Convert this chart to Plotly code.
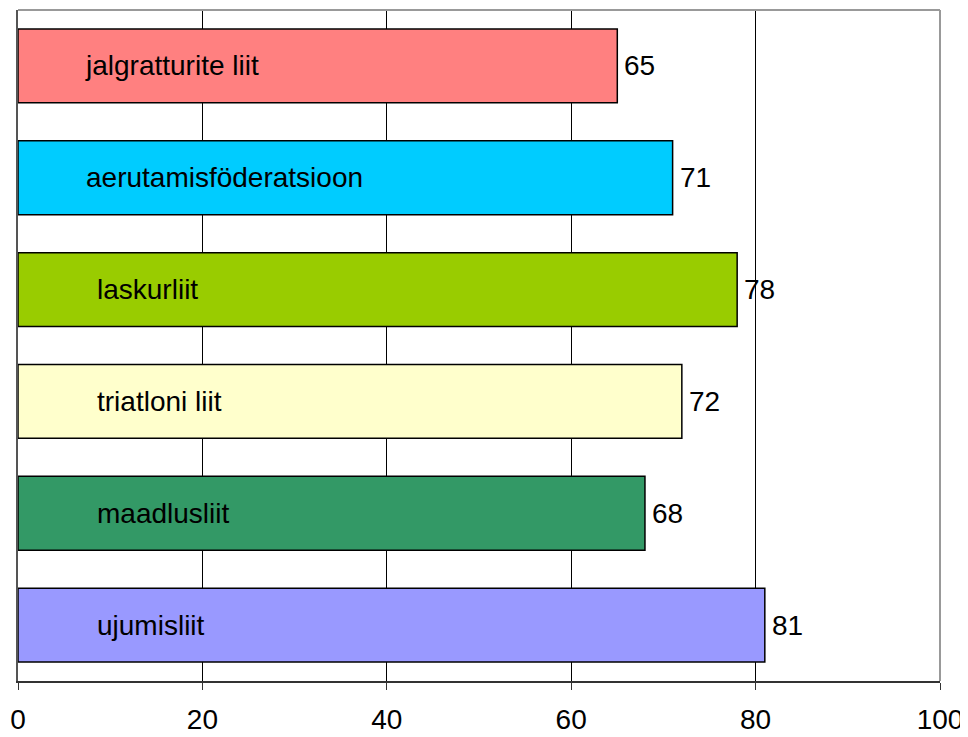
import plotly.graph_objects as go

categories = ["jalgratturite liit", "aerutamisföderatsioon", "laskurliit",
              "triatloni liit", "maadlusliit", "ujumisliit"]
values = [65, 71, 78, 72, 68, 81]
colors = ["#FF8080", "#00CCFF", "#99CC00", "#FFFFCC", "#339966", "#9999FF"]
tick_vals = [0, 20, 40, 60, 80, 100]
label_x = [7.0, 7.2, 8.3, 8.3, 8.3, 8.3]

FONT = "Liberation Sans, Arial, sans-serif"

fig = go.Figure()
fig.add_trace(go.Bar(
    x=values, y=categories, orientation="h",
    marker=dict(color=colors, line=dict(color="black", width=1.5)),
    hoverinfo="x+y",
))

annotations = []
for c, v, lx in zip(categories, values, label_x):
    annotations.append(dict(x=lx, y=c, text=c, xanchor="left", yanchor="middle",
                            showarrow=False, font=dict(family=FONT, size=28, color="black")))
    annotations.append(dict(x=v, y=c, text=str(v), xanchor="left", yanchor="middle",
                            xshift=5, showarrow=False,
                            font=dict(family=FONT, size=28, color="black")))

fig.update_layout(
    width=960, height=729,
    margin=dict(l=8, r=28, t=2, b=54),
    paper_bgcolor="white", plot_bgcolor="white",
    bargap=0.34,
    showlegend=False,
    annotations=annotations,
    xaxis=dict(range=[0, 100], tickvals=tick_vals, ticktext=[str(t) for t in tick_vals],
               showgrid=True, gridcolor="black", gridwidth=1, zeroline=False,
               showline=True, linecolor="#333333", linewidth=1.5,
               ticks="outside", ticklen=7, tickcolor="#333333", tickwidth=1,
               ticklabelstandoff=6,
               tickfont=dict(family=FONT, size=28, color="black")),
    yaxis=dict(autorange="reversed", showticklabels=False, showgrid=False,
               zeroline=False, showline=True, linecolor="#555555", linewidth=1.5,
               ticks=""),
    shapes=[
        dict(type="line", xref="paper", yref="paper", x0=0, x1=1, y0=1, y1=1,
             line=dict(color="#999999", width=2)),
        dict(type="line", xref="paper", yref="paper", x0=1, x1=1, y0=0, y1=1,
             line=dict(color="#999999", width=2)),
    ],
)

fig.write_html("out.html")
